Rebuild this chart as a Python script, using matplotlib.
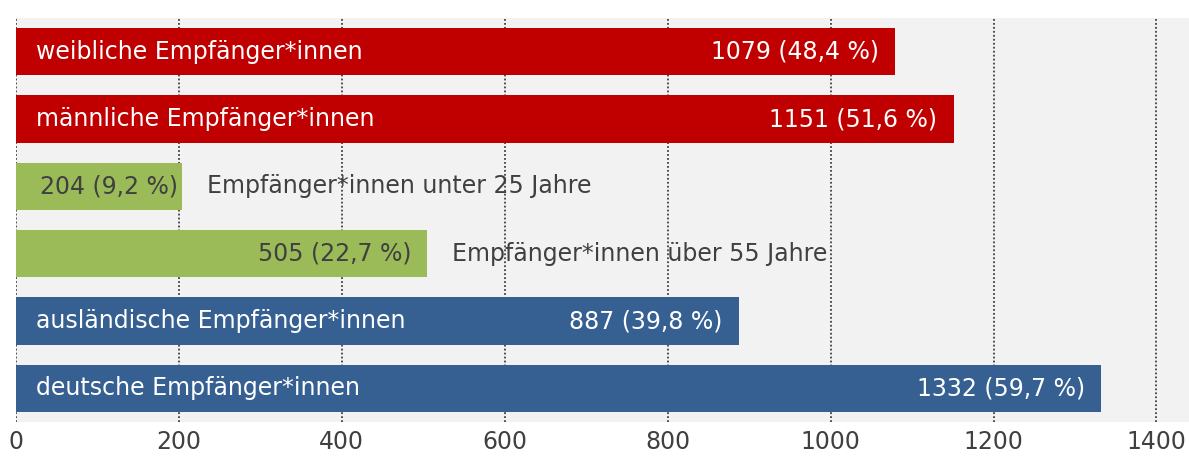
import matplotlib.pyplot as plt

# Daten
kategorien = ['weibliche Empfänger*innen', 'männliche Empfänger*innen',
              'Empfänger*innen unter 25 Jahre', 'Empfänger*innen über 55 Jahre',
              'ausländische Empfänger*innen', 'deutsche Empfänger*innen']
werte = [1079, 1151, 204, 505, 887, 1332]
anteile = ['48,4', '51,6', '9,2', '22,7', '39,8', '59,7']
farben = ['#C00000', '#C00000', '#9BBB59', '#9BBB59', '#366092', '#366092']
label_innen = [True, True, False, False, True, True]

plt.rcParams['font.family'] = ['DejaVu Sans']
fs = 17

fig = plt.figure(figsize=(11.89, 4.65), dpi=100)
ax = fig.add_axes([16 / 1189, 1 - 422 / 465, 1 - 16 / 1189, (422 - 18) / 465])
ax.set_facecolor('#F2F2F2')

pos = list(range(len(werte)))
ax.barh(pos, werte, height=0.70, color=farben, zorder=2)

for i, (w, a, k, innen) in enumerate(zip(werte, anteile, kategorien, label_innen)):
    wert_text = f'{w} ({a} %)'
    if innen:
        ax.text(24, i, k, color='white', va='center', ha='left', fontsize=fs, zorder=3)
        ax.text(w - 20, i, wert_text, color='white', va='center', ha='right', fontsize=fs, zorder=3)
    else:
        # Wert im Balken, Beschriftung rechts daneben
        ax.text(w - 20 if w > 300 else w - 5, i, wert_text, color='#404040',
                va='center', ha='right', fontsize=fs, zorder=3)
        ax.text(w + 30, i, k, color='#404040', va='center', ha='left', fontsize=fs, zorder=3)

ax.set_xlim(0, 1440)
ax.set_ylim(5.5, -0.5)
ax.set_xticks(range(0, 1401, 200))
ax.set_yticks([])
ax.xaxis.grid(True, color='#404040', linestyle=(0, (1, 1.2)), linewidth=1.3, zorder=1)
ax.tick_params(axis='x', length=0, pad=6, labelsize=fs, labelcolor='#404040')
for s in ax.spines.values():
    s.set_visible(False)

fig.savefig('out.png', dpi=100)
